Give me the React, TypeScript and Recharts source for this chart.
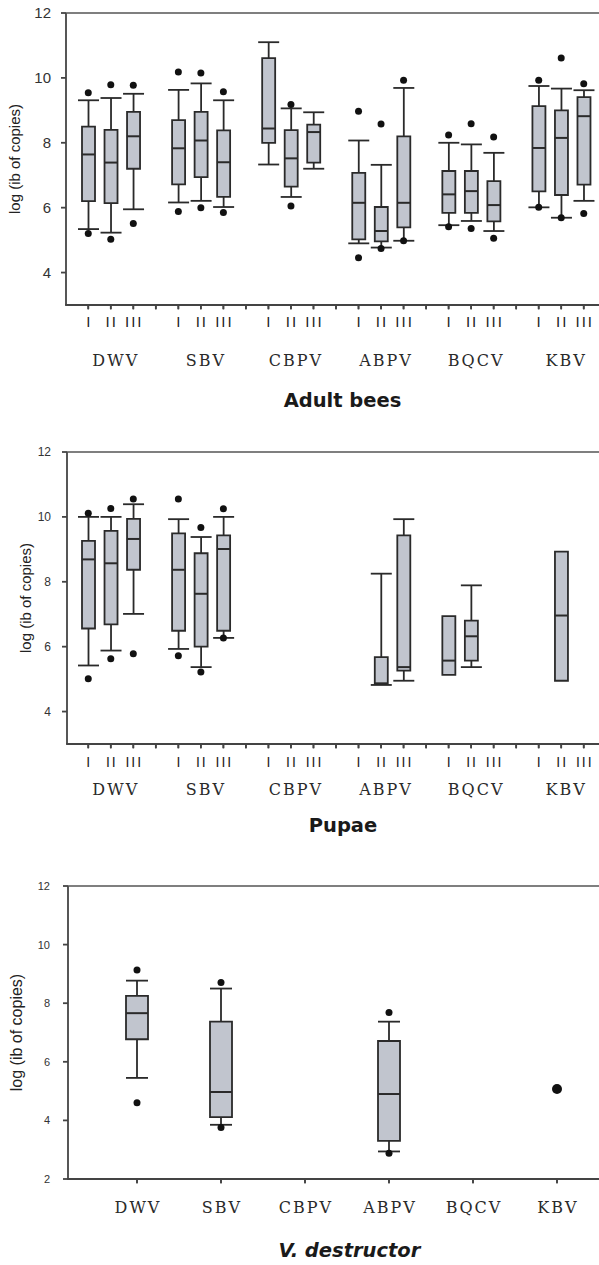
import React from 'react';
import { ComposedChart, Bar, Scatter, XAxis, YAxis } from 'recharts';

// ---------- categories ----------
const viruses = ['DWV', 'SBV', 'CBPV', 'ABPV', 'BQCV', 'KBV'];
const seasons = ['I', 'II', 'III'];

// ---------- Adult bees (order: DWV I,II,III, SBV I,II,III, CBPV..., ABPV..., BQCV..., KBV...) ----------
const adultOutHigh = [9.54, 9.79, 9.77, 10.18, 10.15, 9.57, null, 9.18, null, 8.97, 8.58, 9.93, 8.24, 8.59, 8.18, 9.93, 10.61, 9.82];
const adultHigh = [9.31, 9.38, 9.51, 9.63, 9.83, 9.31, 11.1, 9.06, 8.94, 8.07, 7.32, 9.69, 8.0, 7.95, 7.69, 9.75, 9.67, 9.62];
const adultQ3 = [8.5, 8.4, 8.95, 8.7, 8.95, 8.38, 10.61, 8.39, 8.56, 7.07, 6.02, 8.2, 7.13, 7.13, 6.82, 9.13, 9.0, 9.41];
const adultMedian = [7.64, 7.39, 8.2, 7.83, 8.07, 7.4, 8.44, 7.52, 8.33, 6.15, 5.28, 6.15, 6.41, 6.51, 6.08, 7.84, 8.15, 8.82];
const adultQ1 = [6.2, 6.14, 7.2, 6.72, 6.94, 6.33, 8.0, 6.65, 7.39, 5.02, 4.96, 5.39, 5.84, 5.84, 5.58, 6.5, 6.39, 6.71];
const adultLow = [5.34, 5.23, 5.95, 6.16, 6.21, 6.02, 7.33, 6.33, 7.2, 4.9, 4.77, 4.98, 5.46, 5.59, 5.28, 6.01, 5.69, 6.21];
const adultOutLow = [5.2, 5.03, 5.51, 5.88, 6.0, 5.85, null, 6.05, null, 4.46, 4.74, 4.98, 5.41, 5.36, 5.06, 6.01, 5.69, 5.82];

// ---------- Pupae ----------
const pupaeOutHigh = [10.11, 10.26, 10.55, 10.55, 9.67, 10.25, null, null, null, null, null, null, null, null, null, null, null, null];
const pupaeHigh = [10.0, 10.0, 10.39, 9.93, 9.38, 10.0, null, null, null, null, 8.25, 9.93, null, 7.89, null, null, null, null];
const pupaeQ3 = [9.26, 9.57, 9.94, 9.49, 8.88, 9.43, null, null, null, null, 5.68, 9.43, 6.94, 6.8, null, null, 8.93, null];
const pupaeMedian = [8.69, 8.57, 9.32, 8.37, 7.63, 9.01, null, null, null, null, 4.87, 5.37, 5.57, 6.32, null, null, 6.96, null];
const pupaeQ1 = [6.56, 6.69, 8.37, 6.49, 6.0, 6.49, null, null, null, null, 4.85, 5.26, 5.13, 5.57, null, null, 4.95, null];
const pupaeLow = [5.42, 5.88, 7.01, 5.93, 5.37, 6.27, null, null, null, null, 4.82, 4.95, null, 5.37, null, null, null, null];
const pupaeOutLow = [5.01, 5.63, 5.78, 5.72, 5.22, 6.27, null, null, null, null, null, null, null, null, null, null, null, null];

// ---------- V. destructor (order: DWV, SBV, CBPV, ABPV, BQCV, KBV) ----------
const mitesOutHigh = [9.13, 8.71, null, 7.68, null, null];
const mitesHigh = [8.77, 8.5, null, 7.37, null, null];
const mitesQ3 = [8.25, 7.37, null, 6.71, null, null];
const mitesMedian = [7.66, 4.97, null, 4.9, null, null];
const mitesQ1 = [6.77, 4.11, null, 3.3, null, null];
const mitesLow = [5.45, 3.85, null, 2.94, null, null];
const mitesOutLow = [4.6, 3.76, null, 2.88, null, null];
const mitesSingle = [null, null, null, null, null, 5.07];

// ---------- tick values ----------
const beeYTicks = [4, 6, 8, 10, 12];
const miteYTicks = [2, 4, 6, 8, 10, 12];

type V = number | null;
const pair = (a: V, b: V): [number, number] | null => (a == null || b == null ? null : [a, b]);

function buildGrouped(lo: V[], q1: V[], med: V[], q3: V[], hi: V[], outLo: V[], outHi: V[]) {
  const rows: any[] = [];
  viruses.forEach((v, i) => {
    seasons.forEach((s, j) => {
      const k = i * 3 + j;
      rows.push({
        slot: `${v}|${s}`,
        whisk: pair(lo[k], hi[k]),
        box: pair(q1[k], q3[k]),
        med: med[k],
        outLo: outLo[k],
        outHi: outHi[k],
        single: null,
      });
    });
    if (i < viruses.length - 1) {
      rows.push({ slot: `gap|${i}`, whisk: null, box: null, med: null, outLo: null, outHi: null, single: null });
    }
  });
  return rows;
}

const adultData = buildGrouped(adultLow, adultQ1, adultMedian, adultQ3, adultHigh, adultOutLow, adultOutHigh);
const pupaeData = buildGrouped(pupaeLow, pupaeQ1, pupaeMedian, pupaeQ3, pupaeHigh, pupaeOutLow, pupaeOutHigh);
const mitesData = viruses.map((v, k) => ({
  slot: v,
  whisk: pair(mitesLow[k], mitesHigh[k]),
  box: pair(mitesQ1[k], mitesQ3[k]),
  med: mitesMedian[k],
  outLo: mitesOutLow[k],
  outHi: mitesOutHigh[k],
  single: mitesSingle[k],
}));

// ---------- styles ----------
const INK = '#2a2a2a';
const BOX_FILL = '#c1c5ce';
const AXIS_COLOR = '#444';
const AXIS = { stroke: AXIS_COLOR, strokeWidth: 1.8 };
const SANS = "'Liberation Sans', Arial, sans-serif";
const SERIF = "'DejaVu Serif', 'Liberation Serif', serif";
const TITLE = "'DejaVu Sans', Verdana, sans-serif";

const fin = (n: any) => typeof n === 'number' && isFinite(n);

function WhiskerShape(props: any) {
  const { x, y, width, height } = props;
  if (![x, y, width, height].every(fin) || !height) return <g />;
  const top = Math.min(y, y + height);
  const bot = Math.max(y, y + height);
  const cx = x + width / 2;
  return (
    <g stroke={INK} strokeWidth={1.8} fill="none">
      <line x1={cx} x2={cx} y1={top} y2={bot} />
      <line x1={x} x2={x + width} y1={top} y2={top} />
      <line x1={x} x2={x + width} y1={bot} y2={bot} />
    </g>
  );
}

const medianShape = (w: number) => (props: any) => {
  const { cx, cy, payload } = props;
  if (!payload || payload.med == null || !fin(cx) || !fin(cy)) return <g />;
  return <line x1={cx - w / 2} x2={cx + w / 2} y1={cy} y2={cy} stroke={INK} strokeWidth={2} />;
};

const dotShape = (key: string, r: number) => (props: any) => {
  const { cx, cy, payload } = props;
  if (!payload || payload[key] == null || !fin(cx) || !fin(cy)) return <g />;
  return <circle cx={cx} cy={cy} r={r} fill="#111" />;
};

const GROUP_FONT = { fontFamily: SERIF, fontSize: 16, letterSpacing: 2, fill: '#2a2a2a' };

const slotTick = (romanDy: number, groupDy: number, romanSize: number) => (props: any) => {
  const { x, y, payload } = props;
  const [v, s] = String(payload.value).split('|');
  const axisY = y - 4;
  if (v === 'gap' || !s) return <g />;
  return (
    <g>
      <text x={x + 1} y={axisY + romanDy} textAnchor="middle" fontFamily={SANS} fontSize={romanSize} letterSpacing={2} fill="#222">
        {s}
      </text>
      {s === 'II' && (
        <text x={x + 5} y={axisY + groupDy} textAnchor="middle" {...GROUP_FONT}>
          {v}
        </text>
      )}
    </g>
  );
};

const groupTick = (dy: number) => (props: any) => {
  const { x, y, payload } = props;
  const axisY = y - 4;
  return (
    <text x={x + 1} y={axisY + dy} textAnchor="middle" {...GROUP_FONT}>
      {String(payload.value)}
    </text>
  );
};

type PanelProps = {
  data: any[];
  height: number;
  top: number;
  yAxisWidth: number;
  xAxisHeight: number;
  padL: number;
  padR: number;
  yDomain: [number, number];
  yTicks: number[];
  yTickSize: number;
  yTickMargin: number;
  yLabel: string;
  yLabelX: number;
  yLabelSize: number;
  tick: any;
  title: string;
  titleDx: number;
  titleDy: number;
  italic: boolean;
  whiskW: number;
  boxW: number;
};

const W = 599;

// Frame overlay: top border, x-axis baseline and category tick marks (band centres of the category axis)
function Frame(p: PanelProps) {
  const plotBottom = p.height - p.xAxisHeight;
  const inner = W - p.yAxisWidth - p.padL - p.padR;
  const band = inner / p.data.length;
  return (
    <svg width={W} height={p.height} style={{ position: 'absolute', left: 0, top: 0, pointerEvents: 'none' }}>
      <line x1={p.yAxisWidth} x2={W} y1={p.top} y2={p.top} stroke="#555" strokeWidth={1.5} />
      <line x1={p.yAxisWidth - 0.9} x2={W} y1={plotBottom} y2={plotBottom} stroke={AXIS_COLOR} strokeWidth={1.8} />
      {p.data.map((d, i) => {
        const x = p.yAxisWidth + p.padL + band * (i + 0.5);
        return <line key={d.slot} x1={x} x2={x} y1={plotBottom} y2={plotBottom + 4.5} stroke={AXIS_COLOR} strokeWidth={1.6} />;
      })}
    </svg>
  );
}

function BoxPanel(p: PanelProps) {
  const plotH = p.height - p.top - p.xAxisHeight;
  const plotBottom = p.top + plotH;
  const plotCx = p.yAxisWidth + (W - p.yAxisWidth) / 2;
  const pad = { left: p.padL, right: p.padR };
  const yMid = p.top + plotH / 2;
  return (
    <ComposedChart width={W} height={p.height} data={p.data} margin={{ top: p.top, right: 0, bottom: 0, left: 0 }}>
      <XAxis
        xAxisId="main"
        dataKey="slot"
        type="category"
        allowDuplicatedCategory={false}
        interval={0}
        height={p.xAxisHeight}
        padding={pad}
        axisLine={AXIS}
        tickLine={AXIS}
        tickSize={4}
        tickMargin={0}
        tick={p.tick}
      />
      <XAxis xAxisId="w" dataKey="slot" type="category" allowDuplicatedCategory={false} padding={pad} height={0} hide />
      <XAxis xAxisId="b" dataKey="slot" type="category" allowDuplicatedCategory={false} padding={pad} height={0} hide />
      <YAxis
        type="number"
        domain={p.yDomain}
        ticks={p.yTicks}
        interval={0}
        width={p.yAxisWidth}
        axisLine={AXIS}
        tickLine={AXIS}
        tickSize={5}
        tickMargin={p.yTickMargin}
        tick={{ fontFamily: SANS, fontSize: p.yTickSize, fill: '#333' }}
      />
      <Bar xAxisId="w" dataKey="whisk" barSize={p.whiskW} shape={WhiskerShape} isAnimationActive={false} />
      <Bar xAxisId="b" dataKey="box" barSize={p.boxW} fill={BOX_FILL} stroke={INK} strokeWidth={1.8} isAnimationActive={false} />
      <Scatter xAxisId="main" dataKey="med" shape={medianShape(p.boxW)} isAnimationActive={false} />
      <Scatter xAxisId="main" dataKey="outHi" shape={dotShape('outHi', 3.5)} isAnimationActive={false} />
      <Scatter xAxisId="main" dataKey="outLo" shape={dotShape('outLo', 3.5)} isAnimationActive={false} />
      <Scatter xAxisId="main" dataKey="single" shape={dotShape('single', 5)} isAnimationActive={false} />
      <text
        x={p.yLabelX}
        y={yMid}
        transform={`rotate(-90 ${p.yLabelX} ${yMid})`}
        textAnchor="middle"
        dominantBaseline="central"
        fontFamily={SANS}
        fontSize={p.yLabelSize}
        fill="#222"
      >
        {p.yLabel}
      </text>
      <text
        x={plotCx + p.titleDx}
        y={plotBottom + p.titleDy}
        textAnchor="middle"
        fontFamily={TITLE}
        fontWeight="bold"
        fontStyle={p.italic ? 'italic' : 'normal'}
        fontSize={19.5}
        fill="#1a1a1a"
      >
        {p.title}
      </text>
    </ComposedChart>
  );
}

function Panel(p: PanelProps & { offsetTop: number }) {
  return (
    <div style={{ position: 'absolute', left: 0, top: p.offsetTop, width: W, height: p.height }}>
      <BoxPanel {...p} />
      <Frame {...p} />
    </div>
  );
}

export default function App() {
  return (
    <div style={{ position: 'absolute', left: 0, top: 0, width: W, height: 1265, background: '#fff', overflow: 'hidden' }}>
      <Panel
        offsetTop={0}
        data={adultData}
        height={420}
        top={13}
        yAxisWidth={66}
        xAxisHeight={115}
        padL={11}
        padR={4}
        yDomain={[3, 12]}
        yTicks={beeYTicks}
        yTickSize={15}
        yTickMargin={10}
        yLabel="log (ib of copies)"
        yLabelX={14}
        yLabelSize={15}
        tick={slotTick(22, 61, 15)}
        title="Adult bees"
        titleDx={10}
        titleDy={102}
        italic={false}
        whiskW={21}
        boxW={13}
      />
      <Panel
        offsetTop={420}
        data={pupaeData}
        height={420}
        top={32}
        yAxisWidth={67}
        xAxisHeight={96}
        padL={10}
        padR={4}
        yDomain={[3, 12]}
        yTicks={beeYTicks}
        yTickSize={12}
        yTickMargin={11}
        yLabel="log (ib of copies)"
        yLabelX={25}
        yLabelSize={15}
        tick={slotTick(23, 51, 14)}
        title="Pupae"
        titleDx={10}
        titleDy={88}
        italic={false}
        whiskW={21}
        boxW={13}
      />
      <Panel
        offsetTop={840}
        data={mitesData}
        height={425}
        top={46}
        yAxisWidth={68}
        xAxisHeight={86}
        padL={27}
        padR={0}
        yDomain={[2, 12]}
        yTicks={miteYTicks}
        yTickSize={11}
        yTickMargin={13}
        yLabel="log (ib of copies)"
        yLabelX={16}
        yLabelSize={16}
        tick={groupTick(34)}
        title="V. destructor"
        titleDx={16}
        titleDy={78}
        italic={true}
        whiskW={22}
        boxW={22}
      />
    </div>
  );
}
